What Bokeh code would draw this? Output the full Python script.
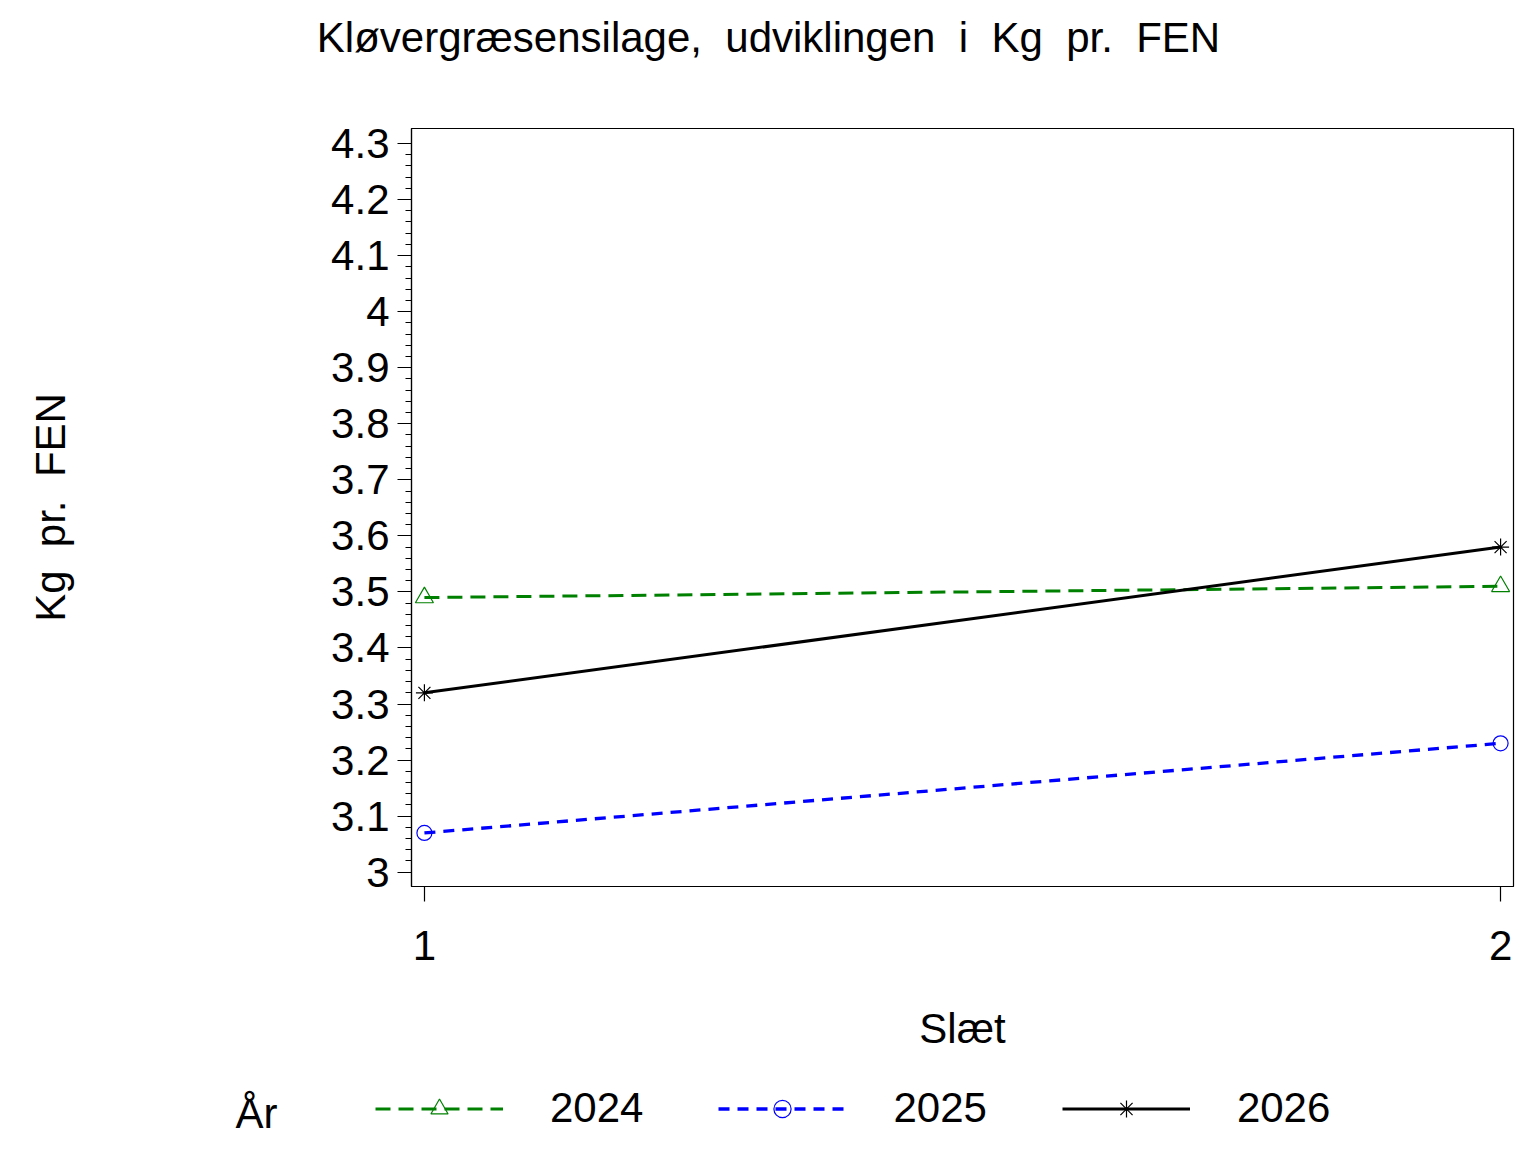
from bokeh.plotting import figure
from bokeh.layouts import column
from bokeh.models import (Range1d, FixedTicker, CustomJSTickFormatter, Legend,
                          LegendItem, Label)
from bokeh.embed import file_html
from bokeh.resources import INLINE

# ---- data ----
slaet = [1, 2]
y2024 = [3.49, 3.51]
y2025 = [3.07, 3.23]
y2026 = [3.32, 3.58]
years = ["2024", "2025", "2026"]
x_ticks = [1, 2]
y_ticks = [3.0, 3.1, 3.2, 3.3, 3.4, 3.5, 3.6, 3.7, 3.8, 3.9, 4.0, 4.1, 4.2, 4.3]

FONT = "Liberation Sans"
NB = "\u00a0"
title_text = NB.join(["Kløvergræsensilage,", " udviklingen", " i", " Kg", " pr.", " FEN"])
ylabel_text = NB.join(["Kg", " pr.", " FEN"])
xlabel_text = "Slæt"
legend_title = "År"

minor = [round(t + k * 0.02, 2) for t in y_ticks[:-1] for k in range(1, 5)]

W = 1528
TOP_H = 80
BOT_H = 69
MAIN_H = 995

styles = [
    dict(color="#008000", width=3, dash="15 8", marker="triangle", size=18),
    dict(color="#0000ff", width=3.3, dash="11 8", marker="circle", size=15),
    dict(color="black", width=3, dash="solid", marker="asterisk", size=17),
]
series = [y2024, y2025, y2026]


def no_align(f):
    if "frame_align" in f.properties():
        f.frame_align = False
    return f


def strip(h):
    f = figure(width=W, height=h, output_backend="svg", toolbar_location=None,
               title=None, x_axis_location=None, y_axis_location=None,
               x_range=Range1d(10, 11), y_range=Range1d(10, 11),
               min_border_left=0, min_border_right=0, min_border_top=0,
               min_border_bottom=0)
    f.outline_line_color = None
    f.background_fill_color = "white"
    f.border_fill_color = "white"
    f.grid.visible = False
    return no_align(f)


# ---- title strip ----
pt = strip(TOP_H)
pt.add_layout(Label(x=768, y=43, x_units="screen", y_units="screen", text=title_text,
                    text_font=FONT, text_font_size="42px", text_color="black",
                    text_baseline="alphabetic", text_align="center"))

# ---- main plot ----
p = figure(width=W, height=MAIN_H, output_backend="svg", toolbar_location=None,
           x_range=Range1d(0.988, 2.012), y_range=Range1d(2.9745, 4.3268),
           min_border_left=411, min_border_right=15, min_border_top=48,
           min_border_bottom=189)
no_align(p)
p.grid.visible = False
p.outline_line_color = "black"
p.outline_line_width = 1.2
p.background_fill_color = "white"
p.border_fill_color = "white"

xa = p.xaxis[0]
xa.ticker = FixedTicker(ticks=x_ticks, minor_ticks=[])
xa.major_tick_out = 15
xa.major_tick_in = 0
xa.minor_tick_out = 0
xa.minor_tick_in = 0
xa.major_tick_line_width = 1.2
xa.axis_line_width = 1.2
xa.major_label_text_font = FONT
xa.major_label_text_font_size = "42px"
xa.major_label_text_color = "black"
xa.major_label_standoff = 29
xa.axis_label = xlabel_text
xa.axis_label_text_font = FONT
xa.axis_label_text_font_size = "42px"
xa.axis_label_text_font_style = "normal"
xa.axis_label_text_color = "black"
xa.axis_label_standoff = 42

ya = p.yaxis[0]
ya.ticker = FixedTicker(ticks=y_ticks, minor_ticks=minor)
ya.formatter = CustomJSTickFormatter(code="return (Math.round(tick*100)/100).toString();")
ya.major_tick_out = 14
ya.major_tick_in = 0
ya.minor_tick_out = 6
ya.minor_tick_in = 0
ya.major_tick_line_width = 1.2
ya.minor_tick_line_width = 1.2
ya.axis_line_width = 1.2
ya.major_label_text_font = FONT
ya.major_label_text_font_size = "42px"
ya.major_label_text_color = "black"
ya.major_label_standoff = 8
ya.axis_label = ylabel_text
ya.axis_label_text_font = FONT
ya.axis_label_text_font_size = "42px"
ya.axis_label_text_font_style = "normal"
ya.axis_label_text_color = "black"
ya.axis_label_standoff = 254

for ys, st in zip(series, styles):
    p.line(slaet, ys, line_color=st["color"], line_width=st["width"], line_dash=st["dash"])
    p.scatter(slaet, ys, marker=st["marker"], size=st["size"], fill_color=None,
              line_color=st["color"], line_width=1.2)

# ---- legend strip (same series, outside the strip's view, used as legend keys) ----
pl = strip(BOT_H)
items = []
for lab, ys, st in zip(years, series, styles):
    rl = pl.line(slaet, ys, line_color=st["color"], line_width=st["width"],
                 line_dash=st["dash"])
    rm = pl.scatter(slaet, ys, marker=st["marker"], size=st["size"], fill_color=None,
                    line_color=st["color"], line_width=1.2)
    items.append(LegendItem(label=lab, renderers=[rl, rm]))

legend = Legend(items=items, orientation="horizontal", location=(375, 12), padding=0,
                margin=0, spacing=75, glyph_width=128, glyph_height=43,
                label_standoff=47, label_text_font=FONT, label_text_font_size="42px",
                label_text_color="black", border_line_color=None,
                background_fill_alpha=0)
pl.add_layout(legend)
pl.add_layout(Label(x=235, y=31, x_units="screen", y_units="screen", text=legend_title,
                    text_font=FONT, text_font_size="42px", text_color="black",
                    text_baseline="alphabetic", text_align="left"))

layout = column(pt, p, pl, spacing=0)
open("out.html", "w").write(file_html(layout, INLINE))
